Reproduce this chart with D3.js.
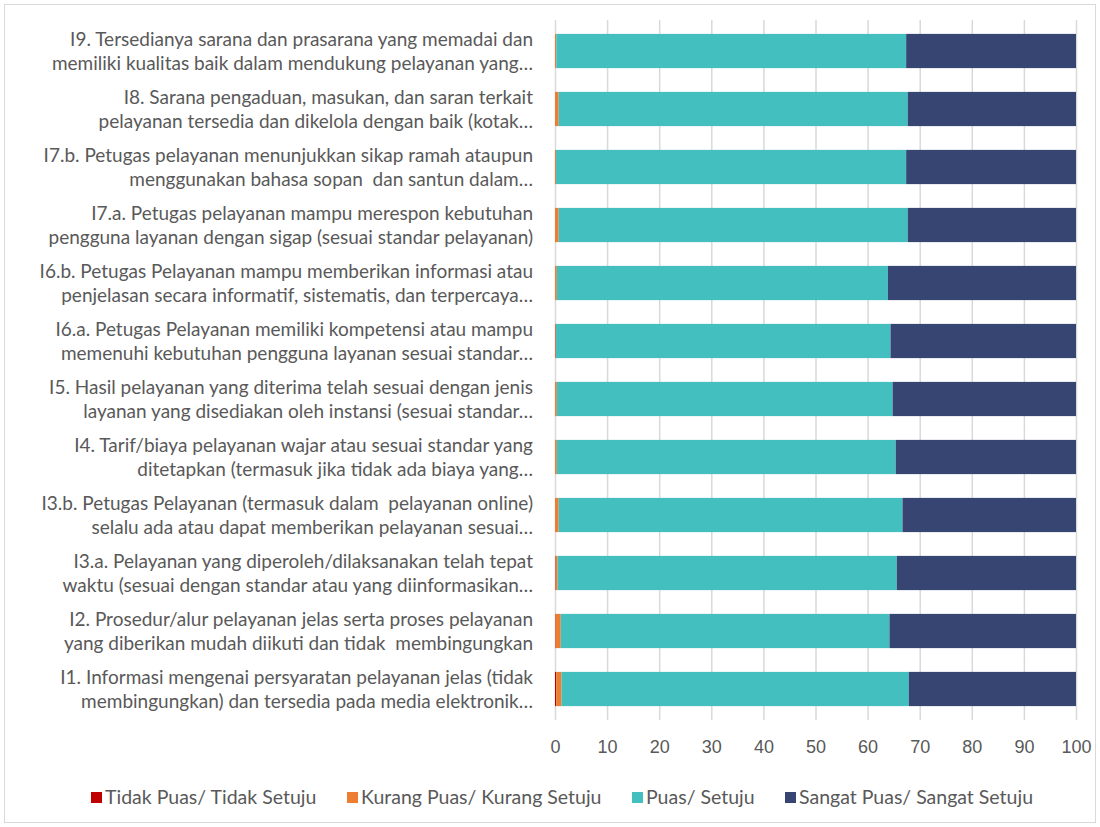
<!DOCTYPE html>
<html>
<head>
<meta charset="utf-8">
<style>
  body { margin: 0; background: #fff; }
  svg { display: block; font-family: 'Open Sans', sans-serif; }
  .grid line { stroke: #d9d9d9; stroke-width: 1.5; }
  .grid .domain { display: none; }
  .x .tick text { font-size: 18px; fill: #595959; }
  .x .domain, .x .tick line { display: none; }
  .cat { font-family: Lato, sans-serif; font-size: 19px; fill: #595959; white-space: pre; }
  .legend text { font-family: Lato, sans-serif; font-size: 19.5px; fill: #595959; }
</style>
</head>
<body>
<svg width="1100" height="827"></svg>
<script src="https://d3js.org/d3.v7.min.js"></script>
<script>
// categories, top to bottom, as two wrapped lines
const categories = [
  ["I9. Tersedianya sarana dan prasarana yang memadai dan", "memiliki kualitas baik dalam mendukung pelayanan yang…"],
  ["I8. Sarana pengaduan, masukan, dan saran terkait", "pelayanan tersedia dan dikelola dengan baik (kotak…"],
  ["I7.b. Petugas pelayanan menunjukkan sikap ramah ataupun", "menggunakan bahasa sopan  dan santun dalam…"],
  ["I7.a. Petugas pelayanan mampu merespon kebutuhan", "pengguna layanan dengan sigap (sesuai standar pelayanan)"],
  ["I6.b. Petugas Pelayanan mampu memberikan informasi atau", "penjelasan secara informatif, sistematis, dan terpercaya…"],
  ["I6.a. Petugas Pelayanan memiliki kompetensi atau mampu", "memenuhi kebutuhan pengguna layanan sesuai standar…"],
  ["I5. Hasil pelayanan yang diterima telah sesuai dengan jenis", "layanan yang disediakan oleh instansi (sesuai standar…"],
  ["I4. Tarif/biaya pelayanan wajar atau sesuai standar yang", "ditetapkan (termasuk jika tidak ada biaya yang…"],
  ["I3.b. Petugas Pelayanan (termasuk dalam  pelayanan online)", "selalu ada atau dapat memberikan pelayanan sesuai…"],
  ["I3.a. Pelayanan yang diperoleh/dilaksanakan telah tepat", "waktu (sesuai dengan standar atau yang diinformasikan…"],
  ["I2. Prosedur/alur pelayanan jelas serta proses pelayanan", "yang diberikan mudah diikuti dan tidak  membingungkan"],
  ["I1. Informasi mengenai persyaratan pelayanan jelas (tidak", "membingungkan) dan tersedia pada media elektronik…"]
];

const seriesNames = ["Tidak Puas/ Tidak Setuju", "Kurang Puas/ Kurang Setuju", "Puas/ Setuju", "Sangat Puas/ Sangat Setuju"];
const seriesColors = ["#c00000", "#ed7d31", "#43bfbf", "#364571"];

// values per category, same order as categories
const tidakPuas  = [0,     0,    0,    0,    0,     0.1,  0,     0,     0,    0.1,  0.1,  0.25];
const kurangPuas = [0.25,  0.7,  0.2,  0.7,  0.35,  0.1,  0.35,  0.35,  0.7,  0.4,  1.0,  1.0];
const puas       = [67.15, 67.0, 67.2, 67.0, 63.55, 64.2, 64.45, 65.05, 66.0, 65.1, 63.1, 66.65];
const sangatPuas = [32.6,  32.3, 32.6, 32.3, 36.1,  35.6, 35.2,  34.6,  33.3, 34.4, 35.8, 32.1];

const xTicks = [0, 10, 20, 30, 40, 50, 60, 70, 80, 90, 100];

const svg = d3.select("svg");

// frame
svg.append("rect")
  .attr("x", 4.5).attr("y", 4.5).attr("width", 1091).attr("height", 818)
  .attr("fill", "none").attr("stroke", "#d9d9d9");

const rows = categories.map((c, i) => ({
  key: i,
  "Tidak Puas/ Tidak Setuju": tidakPuas[i],
  "Kurang Puas/ Kurang Setuju": kurangPuas[i],
  "Puas/ Setuju": puas[i],
  "Sangat Puas/ Sangat Setuju": sangatPuas[i]
}));

const x = d3.scaleLinear().domain([0, 100]).range([555, 1076]);
const y = d3.scaleBand().domain(d3.range(categories.length)).range([22, 718]).paddingInner(0.41).paddingOuter(0.205);

svg.append("g")
  .attr("class", "grid")
  .attr("transform", "translate(0,20)")
  .call(d3.axisBottom(x).tickValues(xTicks).tickSize(700).tickFormat(""));

const stack = d3.stack().keys(seriesNames)(rows);
const color = d3.scaleOrdinal().domain(seriesNames).range(seriesColors);

svg.append("g")
  .selectAll("g")
  .data(stack)
  .join("g")
  .attr("fill", d => color(d.key))
  .selectAll("rect")
  .data(d => d)
  .join("rect")
  .attr("x", d => x(d[0]))
  .attr("y", (d, i) => y(i))
  .attr("width", d => x(d[1]) - x(d[0]))
  .attr("height", y.bandwidth());

svg.append("g")
  .attr("class", "x")
  .attr("transform", "translate(0,740)")
  .call(d3.axisBottom(x).tickValues(xTicks).tickSize(0).tickPadding(0));

// category labels
const cat = svg.append("g");
categories.forEach((lines, i) => {
  const cy = y(i) + y.bandwidth() / 2;
  const t = cat.append("text").attr("class", "cat").attr("text-anchor", "end");
  lines.forEach((l, j) => {
    t.append("tspan").attr("x", 533).attr("y", cy - 5 + j * 24).text(l);
  });
});

// legend
const legendX = [91, 347, 632, 785];
const lg = svg.append("g").attr("class", "legend");
seriesNames.forEach((s, i) => {
  lg.append("rect").attr("x", legendX[i]).attr("y", 792).attr("width", 11).attr("height", 11).attr("fill", seriesColors[i]);
  lg.append("text").attr("x", legendX[i] + 14).attr("y", 804).text(s);
});
</script>
</body>
</html>
